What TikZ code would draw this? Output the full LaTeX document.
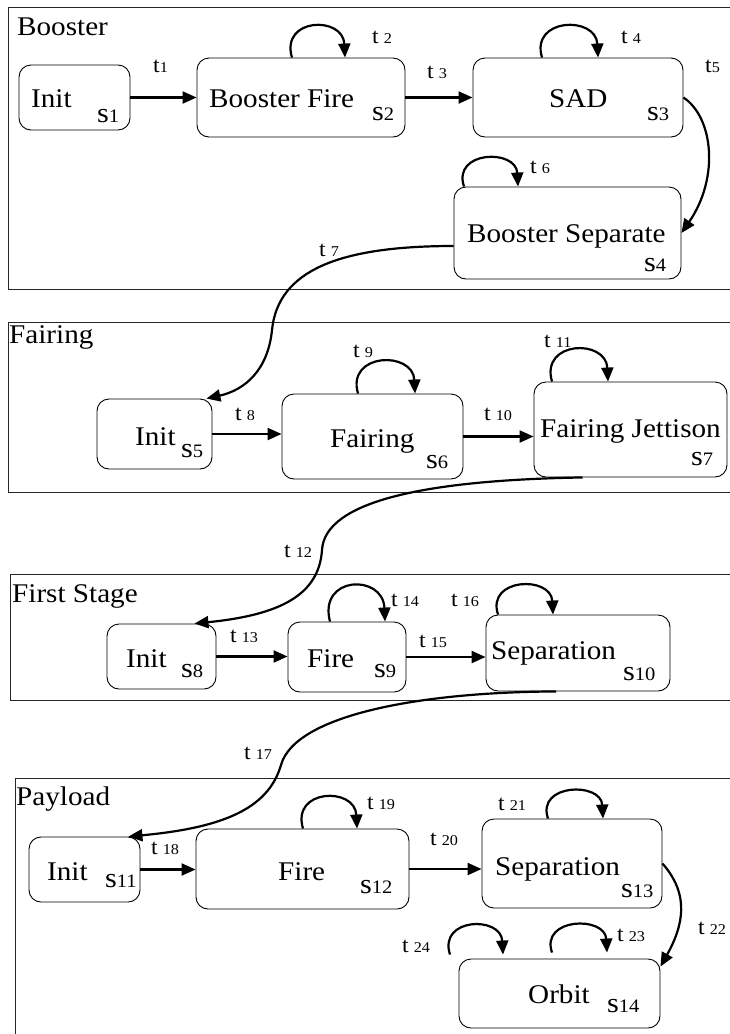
\documentclass[tikz,border=0pt]{standalone}
\usepackage{fontspec}
\setmainfont[FakeStretch=1.08]{Liberation Serif}
\usetikzlibrary{arrows.meta}

\newcommand{\sdig}{\fontsize{19}{19}\selectfont}
\newcommand{\tdig}{\fontsize{15}{15}\selectfont}
\newcommand{\slab}[1]{s{\sdig #1}}
\newcommand{\tlab}[1]{t\hspace{5pt}{\tdig #1}}

\begin{document}
\begin{tikzpicture}[
    x=1pt, y=-1pt,
    font=\fontsize{27}{28}\selectfont,
    frame/.style={draw=black!85,line width=0.9pt},
    state/.style={draw,rounded corners=12pt,line width=0.9pt,inner sep=0pt},
    boxtext/.style={anchor=base west,inner sep=0pt},
    sname/.style={anchor=base west,inner sep=0pt,font=\fontsize{28}{28}\selectfont},
    trans/.style={anchor=base west,inner sep=0pt,font=\fontsize{22}{22}\selectfont},
    arr/.style={line width=2.2pt,-{Triangle[length=14pt,width=12pt]}}
]

\useasboundingbox (0,0) rectangle (730,1034);

% Booster
\draw[frame] (730,7) -| (8,289) -- (730,289);
\node[boxtext] (booster) at (17,35) {Booster};

\node[state,minimum width=111pt,minimum height=65pt] (s1) at (74.5,97.5) {};
\node[state,minimum width=208pt,minimum height=79pt] (s2) at (301,97.5) {};
\node[state,minimum width=210pt,minimum height=79pt] (s3) at (578,97.5) {};
\node[state,minimum width=227pt,minimum height=92pt] (s4) at (567.5,233) {};

\node[boxtext] (n1) at (31,107) {Init};
\node[sname] (l1) at (97,122) {\slab{1}};
\node[boxtext] (n2) at (209,107) {Booster Fire};
\node[sname] (l2) at (372,120) {\slab{2}};
\node[boxtext] (n3) at (549,107) {SAD};
\node[sname] (l3) at (647,120) {\slab{3}};
\node[boxtext] (n4) at (467,242) {Booster Separate};
\node[sname] (l4) at (644,271) {\slab{4}};

\draw[arr] (s1.east) -- (s2.west);
\draw[arr] (s2.east) -- (s3.west);
\draw[arr] ([xshift=-9pt]s2.north)
    .. controls +(-12,-40) and +(-2,-42) .. ([xshift=44pt]s2.north);
\draw[arr] ([xshift=-36pt]s3.north)
    .. controls +(-12,-40) and +(-2,-42) .. ([xshift=20pt]s3.north);
\draw[arr] (s3.east)
    .. controls +(30,20) and +(38,-55) .. (s4.east);
\draw[arr] ([xshift=-103.5pt]s4.north)
    .. controls +(-12,-36) and +(-2,-38) .. ([xshift=-49.5pt]s4.north);

\node[trans] (t1) at (153,72) {t{\tdig 1}};
\node[trans] (t2) at (372,43) {\tlab{2}};
\node[trans] (t3) at (427,78) {\tlab{3}};
\node[trans] (t4) at (621,43) {\tlab{4}};
\node[trans] (t5) at (705,72) {t{\tdig 5}};
\node[trans] (t6) at (530,173) {\tlab{6}};
\node[trans] (t7) at (319,256) {\tlab{7}};

% Fairing
\draw[frame] (730,322) -| (8,492) -- (730,492);
\node[boxtext] (fairing) at (9,343) {Fairing};

\node[state,minimum width=115pt,minimum height=70pt] (s5) at (154.5,434) {};
\node[state,minimum width=181pt,minimum height=85pt] (s6) at (372.5,436.5) {};
\node[state,minimum width=193pt,minimum height=95pt] (s7) at (630.5,429.5) {};

\node[boxtext] (n5) at (135,445) {Init};
\node[sname] (l5) at (181,457) {\slab{5}};
\node[boxtext] (n6) at (330,447) {Fairing};
\node[sname] (l6) at (426,468) {\slab{6}};
\node[boxtext] (n7) at (540,437) {Fairing Jettison};
\node[sname] (l7) at (691,465) {\slab{7}};

\draw[arr] ([yshift=-13pt]s4.west)
    .. controls (340,246) and (278,270) .. (272,330)
    .. controls (268,370) and (245,390) .. ([xshift=-6pt]s5.north east);
\draw[arr] (s5.east) -- (s5.east -| s6.west);
\draw[arr] (s6.east) -- (s6.east -| s7.west);
\draw[arr] ([xshift=-14.5pt]s6.north)
    .. controls +(-12,-41) and +(-2,-43) .. ([xshift=42.5pt]s6.north);
\draw[arr] ([xshift=-78.5pt]s7.north)
    .. controls +(-12,-41) and +(-2,-43) .. ([xshift=-22.5pt]s7.north);

\node[trans] (t8) at (235,420) {\tlab{8}};
\node[trans] (t9) at (353,357) {\tlab{9}};
\node[trans] (t10) at (484,420) {\tlab{10}};
\node[trans] (t11) at (544,347) {\tlab{11}};

% First Stage
\draw[frame] (730,574) -| (10,700) -- (730,700);
\node[boxtext] (firststage) at (12,602) {First Stage};

\node[state,minimum width=109pt,minimum height=65pt] (s8) at (161.5,656.5) {};
\node[state,minimum width=118pt,minimum height=70pt] (s9) at (347,657) {};
\node[state,minimum width=184pt,minimum height=76pt] (s10) at (578,653) {};

\node[boxtext] (n8) at (126,667) {Init};
\node[sname] (l8) at (181,677) {\slab{8}};
\node[boxtext] (n9) at (307,667) {Fire};
\node[sname] (l9) at (374,677) {\slab{9}};
\node[boxtext] (n10) at (491,659) {Separation};
\node[sname] (l10) at (623,680) {\slab{10}};

\draw[arr] ([xshift=-48pt]s7.south)
    .. controls (430,480) and (325,500) .. (322,550)
    .. controls (319,595) and (280,615) .. ([xshift=-22pt]s8.north east);
\draw[arr] (s8.east) -- (s8.east -| s9.west);
\draw[arr] (s9.east) -- (s9.east -| s10.west);
\draw[arr] ([xshift=-17pt]s9.north)
    .. controls +(-12,-46) and +(-2,-48) .. ([xshift=38pt]s9.north);
\draw[arr] ([xshift=-80pt]s10.north)
    .. controls +(-12,-37) and +(-2,-39) .. ([xshift=-25pt]s10.north);

\node[trans] (t12) at (284,557) {\tlab{12}};
\node[trans] (t13) at (230,642) {\tlab{13}};
\node[trans] (t14) at (391,606) {\tlab{14}};
\node[trans] (t15) at (419,647) {\tlab{15}};
\node[trans] (t16) at (451,606) {\tlab{16}};

% Payload
\draw[frame] (730,778) -| (15,1034);
\node[boxtext] (payload) at (16,805) {Payload};

\node[state,minimum width=111pt,minimum height=65pt] (s11) at (84.5,869.5) {};
\node[state,minimum width=213pt,minimum height=80pt] (s12) at (302.5,869) {};
\node[state,minimum width=180pt,minimum height=89pt] (s13) at (572,863.5) {};
\node[state,minimum width=201pt,minimum height=69pt] (s14) at (559.5,993.5) {};

\node[boxtext] (n11) at (47,880) {Init};
\node[sname] (l11) at (105,887) {\slab{11}};
\node[boxtext] (n12) at (278,880) {Fire};
\node[sname] (l12) at (360,893) {\slab{12}};
\node[boxtext] (n13) at (495,875) {Separation};
\node[sname] (l13) at (621,897) {\slab{13}};
\node[boxtext] (n14) at (528,1003) {Orbit};
\node[sname] (l14) at (607,1012) {\slab{14}};

\draw[arr] ([xshift=-22pt]s10.south)
    .. controls (420,692) and (295,715) .. (281,765)
    .. controls (268,810) and (220,828) .. ([xshift=-12pt]s11.north east);
\draw[arr] (s11.east) -- (s11.east -| s12.west);
\draw[arr] (s12.east) -- (s12.east -| s13.west);
\draw[arr] ([xshift=0.5pt]s12.north)
    .. controls +(-12,-40) and +(-2,-42) .. ([xshift=54.5pt]s12.north);
\draw[arr] ([xshift=-24pt]s13.north)
    .. controls +(-12,-35) and +(-2,-37) .. ([xshift=31pt]s13.north);
\draw[arr] (s13.east)
    .. controls +(22,25) and +(28,-50) .. ([yshift=-8pt]s14.north east);
\draw[arr] ([xshift=-109.5pt,yshift=4pt]s14.north)
    .. controls +(-12,-37) and +(-2,-39) .. ([xshift=-56.5pt,yshift=4pt]s14.north);
\draw[arr] ([xshift=-7.5pt,yshift=6pt]s14.north)
    .. controls +(-12,-35) and +(-2,-37) .. ([xshift=47.5pt,yshift=6pt]s14.north);

\node[trans] (t17) at (244,759) {\tlab{17}};
\node[trans] (t18) at (151,854) {\tlab{18}};
\node[trans] (t19) at (367,809) {\tlab{19}};
\node[trans] (t20) at (430,845) {\tlab{20}};
\node[trans] (t21) at (498,810) {\tlab{21}};
\node[trans] (t22) at (698,934) {\tlab{22}};
\node[trans] (t23) at (617,941) {\tlab{23}};
\node[trans] (t24) at (402,952) {\tlab{24}};

\end{tikzpicture}
\end{document}
